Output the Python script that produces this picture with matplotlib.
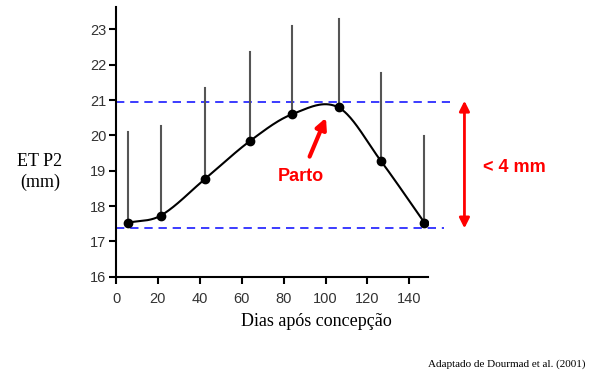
import numpy as np
import matplotlib
matplotlib.use("Agg")
from matplotlib import pyplot as plt

# data
dias = [5.9, 21.3, 42.7, 63.9, 84.1, 106.2, 126.5, 147.2]
et_p2 = [17.53, 17.73, 18.78, 19.84, 20.6, 20.79, 19.27, 17.53]
et_p2_sup = [20.09, 20.27, 21.33, 22.37, 23.1, 23.28, 21.77, 19.98]
linha_max = 20.95
linha_min = 17.37
xticks = [0, 20, 40, 60, 80, 100, 120, 140]
yticks = [16, 17, 18, 19, 20, 21, 22, 23]


def smooth_curve(x, y, n=40):
    # Catmull-Rom style hermite curve through the points, for drawing only
    x = np.asarray(x, float)
    y = np.asarray(y, float)
    k = len(x)
    m = np.zeros(k)
    m[0] = (y[1] - y[0]) / (x[1] - x[0])
    m[-1] = (y[-1] - y[-2]) / (x[-1] - x[-2])
    for i in range(1, k - 1):
        m[i] = (y[i + 1] - y[i - 1]) / (x[i + 1] - x[i - 1])
    xs_all, ys_all = [], []
    for i in range(k - 1):
        h = x[i + 1] - x[i]
        t = np.linspace(0, 1, n)
        h00 = 2 * t**3 - 3 * t**2 + 1
        h10 = t**3 - 2 * t**2 + t
        h01 = -2 * t**3 + 3 * t**2
        h11 = t**3 - t**2
        xs_all.append(x[i] + t * h)
        ys_all.append(h00 * y[i] + h10 * h * m[i] + h01 * y[i + 1] + h11 * h * m[i + 1])
    return np.concatenate(xs_all), np.concatenate(ys_all)


fig = plt.figure(figsize=(5.89, 3.75), dpi=100)
ax = fig.add_axes([0.197, 0.262, 0.530, 0.719])

# error bars (upper only)
for x, y, top in zip(dias, et_p2, et_p2_sup):
    ax.plot([x, x], [y, top], color="#555555", lw=1.5, zorder=2)

xs, ys = smooth_curve(dias, et_p2)
ax.plot(xs, ys, color="black", lw=1.5, zorder=3)
ax.plot(dias, et_p2, "o", color="black", ms=6, zorder=4)

# dashed reference lines
ax.plot([0, 159.6], [linha_max, linha_max], color="#1a1aff", lw=1.2,
        ls=(0, (5, 3.5)), clip_on=False, zorder=1)
ax.plot([0, 156.7], [linha_min, linha_min], color="#1a1aff", lw=1.2,
        ls=(0, (5, 3.5)), clip_on=False, zorder=1)

# red double arrow and labels
ax.annotate("", xy=(166.3, 17.37), xytext=(166.3, 20.98),
            arrowprops=dict(arrowstyle="<|-|>", color="red", lw=2,
                            mutation_scale=15, shrinkA=0, shrinkB=0),
            annotation_clip=False)
ax.text(175, 19.08, "< 4 mm", color="red", fontsize=13, fontweight="bold",
        family="Liberation Sans", va="center", ha="left", clip_on=False)

ax.annotate("", xy=(100.2, 20.5), xytext=(92.4, 19.4),
            arrowprops=dict(arrowstyle="-|>", color="red", lw=3,
                            mutation_scale=16, shrinkA=0, shrinkB=0))
ax.text(88.3, 18.83, "Parto", color="red", fontsize=13, fontweight="bold",
        family="Liberation Sans", va="center", ha="center")

ax.set_xlim(0, 149)
ax.set_ylim(16, 23.63)
ax.set_xticks(xticks)
ax.set_yticks(yticks)
for s in ["top", "right"]:
    ax.spines[s].set_visible(False)
for s in ["left", "bottom"]:
    ax.spines[s].set_linewidth(1.5)
ax.tick_params(direction="out", length=5, width=1.5, labelsize=10.5,
               labelcolor="#333333", pad=2)
for lab in ax.get_xticklabels() + ax.get_yticklabels():
    lab.set_family("Liberation Sans")
ax.tick_params(axis="x", pad=6)

fig.text(40 / 589, 1 - 172 / 375, "ET P2\n(mm)", family="Liberation Serif",
         fontsize=13, ha="center", va="center", linespacing=1.3)
fig.text(316 / 589, 1 - 322 / 375, "Dias após concepção",
         family="Liberation Serif", fontsize=13, ha="center", va="center")
fig.text(585 / 589, 1 - 364 / 375, "Adaptado de Dourmad et al. (2001)",
         family="Liberation Serif", fontsize=8, ha="right", va="center")

fig.savefig("out.png", dpi=100)
